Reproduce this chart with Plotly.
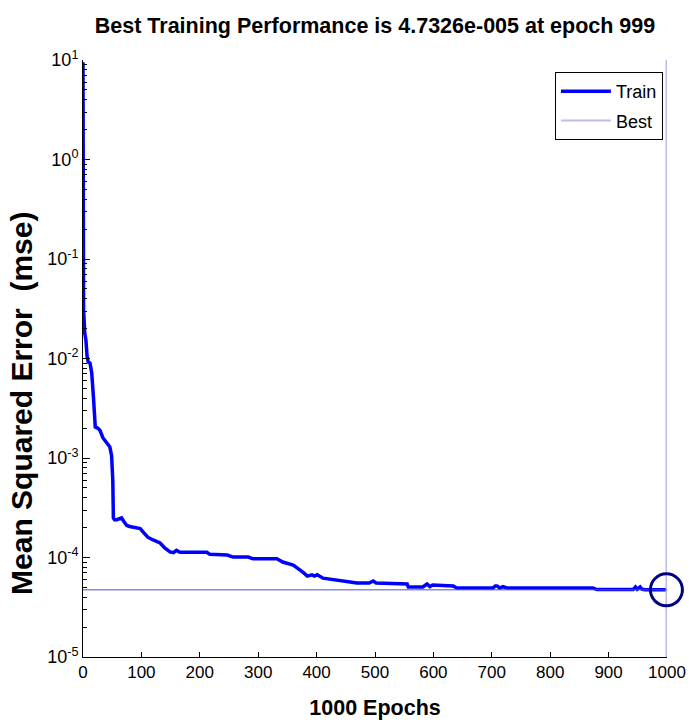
import plotly.graph_objects as go

# ---- data ----
epochs = [0, 1, 3, 5, 7, 9, 12, 15, 18, 21, 25, 29, 34, 40, 46, 49, 51, 52, 54, 58,
          63, 66, 70, 75, 80, 90, 98, 105, 111, 120, 132, 140, 149, 155, 160, 166,
          180, 200, 212, 217, 235, 247, 257, 270, 283, 291, 300, 332, 342, 352, 360,
          366, 372, 378, 384, 392, 396, 401, 411, 420, 435, 452, 469, 490, 497, 502,
          509, 530, 555, 557, 575, 582, 589, 594, 599, 620, 634, 640, 660, 680, 702,
          706, 709, 714, 719, 726, 873, 880, 942, 946, 949, 954, 957, 962, 999]
train_mse = [9.5, 0.031, 0.018, 0.0153, 0.0105, 0.0092, 0.0090, 0.0071, 0.0040, 0.00205,
             0.00200, 0.00190, 0.00160, 0.00145, 0.00129, 0.00105, 0.00060, 0.00025,
             0.00024, 0.00024, 0.000245, 0.00025, 0.00023, 0.00021, 0.000205, 0.000200,
             0.000195, 0.000175, 0.000160, 0.000150, 0.000140, 0.000125, 0.000114,
             0.000112, 0.000118, 0.000113, 0.000113, 0.000113, 0.000113, 0.000108,
             0.000107, 0.000106, 0.000101, 0.000101, 0.000101, 0.000097, 0.000097,
             0.000097, 0.000090, 0.000087, 0.000084, 0.000079, 0.000075, 0.000070,
             0.000065, 0.000067, 0.000065, 0.000067, 0.000062, 0.000061, 0.0000594,
             0.0000567, 0.0000554, 0.0000554, 0.000058, 0.0000555, 0.0000554, 0.0000548,
             0.0000542, 0.0000506, 0.0000506, 0.0000506, 0.0000542, 0.000051, 0.000053,
             0.0000517, 0.0000517, 0.0000494, 0.0000494, 0.0000494, 0.0000494, 0.0000517,
             0.0000517, 0.0000494, 0.000051, 0.0000494, 0.0000494, 0.0000476, 0.0000476,
             0.0000505, 0.000048, 0.0000505, 0.000048, 0.0000474, 0.000047326]
best_epoch = 999
best_mse = 4.7326e-5
x_ticks = [0, 100, 200, 300, 400, 500, 600, 700, 800, 900, 1000]
y_tick_vals = [1e-5, 1e-4, 1e-3, 1e-2, 1e-1, 1e0, 1e1]
y_tick_text = ["10<sup>-5</sup>", "10<sup>-4</sup>", "10<sup>-3</sup>", "10<sup>-2</sup>",
               "10<sup>-1</sup>", "10<sup>0</sup>", "10<sup>1</sup>"]
x_range = [0, 1000]
y_range_vals = [1e-5, 1e1]

font = "Liberation Sans, Arial, sans-serif"

fig = go.Figure()

fig.add_trace(go.Scatter(
    x=epochs, y=train_mse, mode="lines", name="Train",
    line=dict(color="rgb(0,0,255)", width=3.5),
    legendgroup="a",
))
fig.add_trace(go.Scatter(
    x=[best_epoch, best_epoch], y=y_range_vals, mode="lines", name="Best",
    line=dict(color="rgb(190,190,230)", width=2),
    legendgroup="b",
))
fig.add_trace(go.Scatter(
    x=x_range, y=[best_mse, best_mse], mode="lines", showlegend=False,
    line=dict(color="rgb(80,80,205)", width=1),
))
fig.add_trace(go.Scatter(
    x=[best_epoch], y=[best_mse], mode="markers", showlegend=False,
    marker=dict(symbol="circle-open", size=32, color="rgb(0,0,128)",
                line=dict(width=3, color="rgb(0,0,128)")),
    cliponaxis=False,
))

fig.update_layout(
    width=690, height=722,
    margin=dict(l=83, r=23, t=60, b=65, autoexpand=False),
    paper_bgcolor="white", plot_bgcolor="white",
    title=dict(text="<b>Best Training Performance is 4.7326e-005 at epoch 999</b>",
               x=0.5435, xanchor="center", y=0.965, yanchor="middle",
               font=dict(family=font, size=21.5, color="black")),
    legend=dict(x=0.993, xanchor="right", y=0.98, yanchor="top",
                bordercolor="black", borderwidth=1, bgcolor="white",
                font=dict(family=font, size=18, color="black"),
                traceorder="grouped", tracegroupgap=3, itemwidth=50),
    showlegend=True,
    annotations=[dict(
        text="<b>Mean Squared Error  (mse)</b>", textangle=-90,
        xref="paper", yref="paper", x=-0.105, y=0.425,
        xanchor="center", yanchor="middle", showarrow=False,
        font=dict(family=font, size=30, color="black"),
    )],
)
fig.update_xaxes(
    range=x_range, tickmode="array", tickvals=x_ticks, automargin=False,
    ticks="inside", ticklen=5, tickcolor="black",
    showline=True, linecolor="black", linewidth=1, mirror=False,
    showgrid=False, zeroline=False,
    tickfont=dict(family=font, size=17, color="black"),
    title=dict(text="<b>1000 Epochs</b>", font=dict(family=font, size=21.5, color="black"),
               standoff=18),
)
fig.update_yaxes(
    type="log", range=[-5, 1], tickmode="array", tickvals=y_tick_vals, ticktext=y_tick_text,
    automargin=False,
    ticks="inside", ticklen=7, tickcolor="black",
    minor=dict(ticks="inside", ticklen=4, tickcolor="black", dtick="D1", showgrid=False),
    showline=True, linecolor="black", linewidth=1, mirror=False,
    showgrid=False, zeroline=False,
    tickfont=dict(family=font, size=18, color="black"),
)

fig.write_html("out.html")
